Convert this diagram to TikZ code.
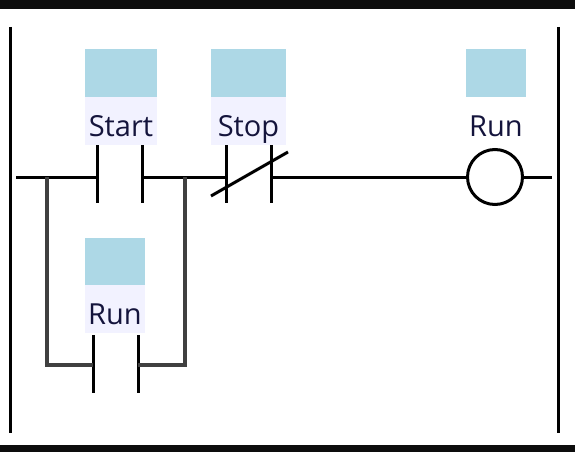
\documentclass[tikz,border=0pt]{standalone}
\usepackage{fontspec}
\setmainfont{Open Sans}
\begin{document}
\begin{tikzpicture}[x=1pt,y=-1pt,
  wire/.style={line width=3pt,black},
  br/.style={line width=3.2pt,black!75},
  tag/.style={fill=blue!5,inner sep=0pt,minimum height=48pt,anchor=north},
  lbl/.style={anchor=base,inner sep=0pt,text={rgb,255:red,20;green,20;blue,60},font=\fontsize{29}{29}\selectfont},
  box/.style={fill={rgb,255:red,173;green,216;blue,230},inner sep=0pt,minimum height=48pt,anchor=north}]
\useasboundingbox (0,0) rectangle (575,452);
\fill[black!95] (0,0) rectangle (575,9);
\fill[black!95] (0,445) rectangle (575,452);
% rails
\draw[wire] (10,27) -- (10,433);
\draw[wire] (558,27) -- (558,433);
% tags
\node[box,minimum width=72pt] (sb) at (121,49) {};
\node[tag,minimum width=72pt] (st) at (121,97) {};
\node[lbl] (stl) at (121,136) {Start};
\node[box,minimum width=75pt] (pb) at (248.5,49) {};
\node[tag,minimum width=75pt] (pt) at (248.5,97) {};
\node[lbl] (ptl) at (248.5,136) {Stop};
\node[box,minimum width=60pt] (rb) at (496,49) {};
\node[lbl] (rtl) at (496,136) {Run};
\node[box,minimum width=60pt] (lb) at (115,238) {};
\node[tag,minimum width=60pt] (lt) at (115,285) {};
\node[lbl] (ltl) at (115,324) {Run};
% coordinates
\coordinate (L) at (16,177);
\coordinate (J1) at (47,177);
\coordinate (J2) at (185,177);
\coordinate (J3) at (47,365);
\coordinate (J4) at (185,365);
\coordinate (R) at (552,177);
% contacts
\draw[wire] (97,145) -- (97,203) (142,145) -- (142,203);
\draw[wire] (226,145) -- (226,203) (271,145) -- (271,203);
\draw[wire] (211,196) -- (288,152);
\draw[wire] (93,335) -- (93,393) (138,335) -- (138,393);
\node[draw,line width=3pt,circle,minimum size=55pt,inner sep=0pt] (coil) at (495,177) {};
% wires
\draw[wire] (L) -- (97,177) (142,177) -- (226,177) (271,177) -- (coil.west) (coil.east) -- (R);
\draw[br] (J1) -- (J3) -- (93,365) (138,365) -- (J4) -- (J2);
\end{tikzpicture}
\end{document}
